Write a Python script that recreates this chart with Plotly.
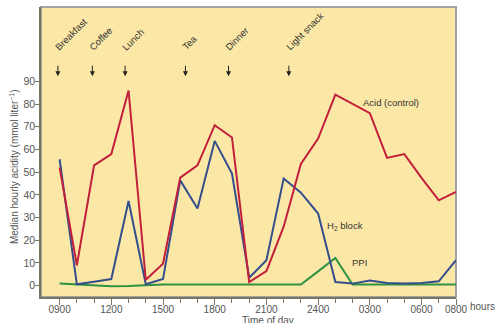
import plotly.graph_objects as go

# ---- data ----
hours = list(range(24))
tick_hours = [0, 3, 6, 9, 12, 15, 18, 21, 23]
tick_labels = ["0900", "1200", "1500", "1800", "2100", "2400", "0300", "0600", "0800"]

acid = [52, 9, 53, 58, 86, 2.6, 9.7, 47.6, 53, 70.7, 65.3, 1.6,
        6.4, 26, 53.6, 64.8, 84.2, 80, 76, 56.3, 58, 47.5, 37.6, 41.3]
h2_block = [55.7, 0.6, 1.7, 2.9, 37.3, 0.6, 2.9, 46.4, 34, 63.8, 49.4, 3.5,
            11.2, 47.2, 41, 31.8, 1.6, 0.9, 2.3, 1.2, 1.0, 1.2, 1.9, 11.2]
ppi = [0.9, 0.4, 0.0, -0.3, -0.2, 0.3, 0.5, 0.5, 0.5, 0.5, 0.5, 0.5,
       0.5, 0.5, 0.5, 6.3, 12.2, 0.5, 0.5, 0.5, 0.5, 0.5, 0.5, 0.5]

meals = ["Breakfast", "Coffee", "Lunch", "Tea", "Dinner", "Light snack"]
meal_hours = [-0.1, 1.9, 3.8, 7.3, 9.8, 13.3]

series_labels = ["Acid (control)", "H<sub>2</sub> block", "PPI"]

RED = "#c21f3c"
BLUE = "#354e8c"
GREEN = "#2f9142"
BG = "#fce8a6"
TXT = "#555555"
FONT = "Arial, Liberation Sans, sans-serif"

fig = go.Figure()
fig.add_trace(go.Scatter(x=hours, y=ppi, mode="lines", line=dict(color=GREEN, width=2), showlegend=False))
fig.add_trace(go.Scatter(x=hours, y=h2_block, mode="lines", line=dict(color=BLUE, width=2), showlegend=False))
fig.add_trace(go.Scatter(x=hours, y=acid, mode="lines", line=dict(color=RED, width=2), showlegend=False))

ann = []
# series labels
for txt, xx, yy in zip(series_labels, [17.5, 15.42, 16.87], [80.5, 26.3, 10.0]):
    ann.append(dict(x=xx, y=yy, xref="x", yref="y", text=txt, showarrow=False,
                    xanchor="left", yanchor="middle", font=dict(size=9.5, color="#333333", family=FONT)))
# meal labels and arrows
for m, mh in zip(meals, meal_hours):
    ann.append(dict(x=mh, y=101.5, xref="x", yref="y", text=m, showarrow=False,
                    textangle=-45, xanchor="left", yanchor="bottom", xshift=-8,
                    font=dict(size=9.5, color="#333333", family=FONT)))
    ann.append(dict(x=mh, y=92.3, xref="x", yref="y", text="", showarrow=True,
                    ax=0, ay=-12, arrowhead=2, arrowsize=1, arrowwidth=1, arrowcolor="#222222"))
# axis titles
ann.append(dict(x=-0.066, y=0.45, xref="paper", yref="paper",
                text="Median hourly acidity (mmol liter<sup>\u22121</sup>)", textangle=-90,
                showarrow=False, xanchor="center", yanchor="middle",
                font=dict(size=10, color=TXT, family=FONT)))
ann.append(dict(x=0.5465, y=-0.08, xref="paper", yref="paper", text="Time of day",
                showarrow=False, xanchor="center", yanchor="middle",
                font=dict(size=10, color=TXT, family=FONT)))
ann.append(dict(x=1.0, y=-0.032, xref="paper", yref="paper", text="hours", xshift=12,
                showarrow=False, xanchor="left", yanchor="middle",
                font=dict(size=10, color=TXT, family=FONT)))

fig.update_layout(
    width=496, height=323,
    margin=dict(l=41, r=40, t=7, b=26),
    paper_bgcolor="white", plot_bgcolor=BG,
    font=dict(family=FONT, size=10, color=TXT),
    annotations=ann,
    shapes=[dict(type="rect", xref="paper", yref="paper", x0=0, y0=0, x1=1, y1=1,
                 line=dict(color="#a3a3a3", width=2), layer="below")],
)
fig.update_xaxes(range=[-1.08, 23], tickmode="array", tickvals=tick_hours, ticktext=tick_labels,
                 showgrid=False, zeroline=False, showline=True, linecolor="#7a7560", linewidth=1.5,
                 ticks="outside", ticklen=6, tickcolor="#7a7560", tickwidth=1,
                 ticklabelstandoff=-4,
                 tickfont=dict(size=10, color=TXT),
                 minor=dict(tickmode="array", tickvals=hours, ticks="outside", ticklen=4,
                            tickcolor="#7a7560", showgrid=False))
fig.update_yaxes(range=[-5, 122.8], tickmode="array", tickvals=list(range(0, 100, 10)),
                 showgrid=False, zeroline=False, showline=True, linecolor="#7a7560", linewidth=1.5,
                 ticks="outside", ticklen=4, tickcolor="#7a7560", tickwidth=1,
                 ticklabelstandoff=-2,
                 tickfont=dict(size=10.5, color=TXT))

fig.write_html("out.html", config={"displayModeBar": False},
               post_script="document.body.style.margin='0';document.body.style.overflow='hidden';")
